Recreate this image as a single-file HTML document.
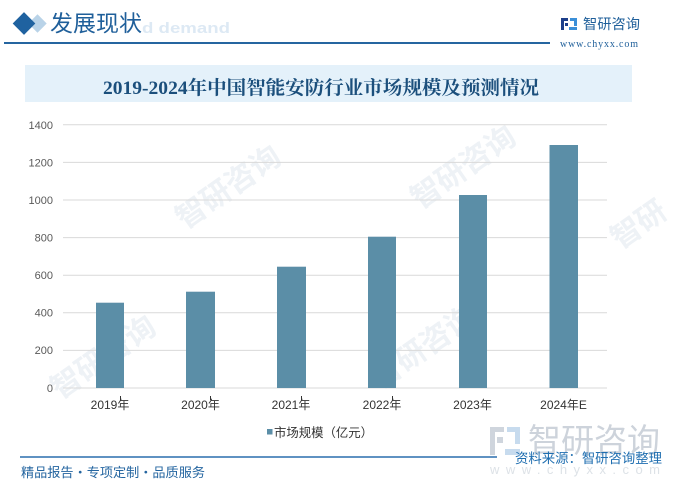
<!DOCTYPE html>
<html>
<head>
<meta charset="utf-8">
<style>
  html,body{margin:0;padding:0;background:#fff;}
  body{width:680px;height:492px;overflow:hidden;position:relative;}
  svg{display:block;}
  .cjk{font-family:"Liberation Sans","Noto Sans CJK SC",sans-serif;}
  .serif{font-family:"Liberation Serif","Noto Serif CJK SC",serif;}
</style>
</head>
<body>
<svg width="680" height="492" viewBox="0 0 680 492" xmlns="http://www.w3.org/2000/svg">
  <!-- faint watermarks -->
  <g class="cjk" fill="#eef2f6" font-size="30" font-weight="bold">
    <text x="0" y="0" transform="translate(185,230) rotate(-35)">智研咨询</text>
    <text x="0" y="0" transform="translate(380,390) rotate(-35)">智研咨询</text>
    <text x="0" y="0" transform="translate(420,210) rotate(-35)">智研咨询</text>
    <text x="0" y="0" transform="translate(60,400) rotate(-35)">智研咨询</text>
    <text x="0" y="0" transform="translate(620,250) rotate(-35)">智研</text>
  </g>

  <!-- header -->
  <rect x="31" y="17" width="13" height="13" fill="#b9d3e8" transform="rotate(45 37.5 23.5)"/>
  <rect x="16" y="15.5" width="16" height="16" fill="#1f62a0" transform="rotate(45 24 23.5)"/>
  <text x="142" y="33" font-family="Liberation Sans, sans-serif" font-weight="bold" font-size="14.5" fill="#dde9f4" textLength="88" lengthAdjust="spacingAndGlyphs">d demand</text>
  <text class="cjk" x="50" y="31.5" font-size="22.5" fill="#1f5f9a" textLength="92" lengthAdjust="spacingAndGlyphs">发展现状</text>
  <line x1="4" y1="43" x2="550" y2="43" stroke="#2565a0" stroke-width="2"/>

  <!-- logo -->
  <rect x="561" y="18" width="7" height="3" fill="#1d3f8a"/>
  <rect x="561" y="18" width="3" height="12" fill="#1d3f8a"/>
  <rect x="565" y="23" width="3" height="3" fill="#1d3f8a"/>
  <rect x="570" y="18" width="7" height="3" fill="#3b8fd8"/>
  <rect x="574" y="18" width="3" height="8" fill="#3b8fd8"/>
  <rect x="569" y="27" width="8" height="3" fill="#3b8fd8"/>
  <text class="cjk" x="583" y="29" font-size="14" fill="#1f5f9a" textLength="57" lengthAdjust="spacingAndGlyphs">智研咨询</text>
  <text class="serif" x="560" y="47" font-size="10" fill="#1f5f9a" textLength="78" lengthAdjust="spacing">www.chyxx.com</text>

  <!-- title box -->
  <rect x="25" y="65" width="607" height="37" fill="#e4f1fa"/>
  <text class="serif" x="103" y="94" font-size="19" font-weight="bold" fill="#1b4f7c" textLength="436" lengthAdjust="spacingAndGlyphs">2019-2024年中国智能安防行业市场规模及预测情况</text>

  <!-- gridlines -->
  <g stroke="#d9d9d9" stroke-width="1">
    <line x1="63" y1="124.8" x2="607" y2="124.8"/>
    <line x1="63" y1="162.4" x2="607" y2="162.4"/>
    <line x1="63" y1="200" x2="607" y2="200"/>
    <line x1="63" y1="237.6" x2="607" y2="237.6"/>
    <line x1="63" y1="275.2" x2="607" y2="275.2"/>
    <line x1="63" y1="312.8" x2="607" y2="312.8"/>
    <line x1="63" y1="350.4" x2="607" y2="350.4"/>
    <line x1="63" y1="388" x2="607" y2="388"/>
  </g>

  <!-- y labels -->
  <g font-family="Liberation Sans, sans-serif" font-size="11" fill="#595959" text-anchor="end">
    <text x="53" y="129">1400</text>
    <text x="53" y="166.5">1200</text>
    <text x="53" y="204">1000</text>
    <text x="53" y="241.5">800</text>
    <text x="53" y="279">600</text>
    <text x="53" y="316.5">400</text>
    <text x="53" y="354">200</text>
    <text x="53" y="392">0</text>
  </g>

  <!-- bars -->
  <g fill="#5b8ea7">
    <rect x="96" y="302.7" width="28" height="85.3"/>
    <rect x="186" y="291.7" width="29" height="96.3"/>
    <rect x="277" y="266.7" width="29" height="121.3"/>
    <rect x="368" y="236.7" width="28" height="151.3"/>
    <rect x="459" y="195" width="28" height="193"/>
    <rect x="549.5" y="145" width="28.5" height="243"/>
  </g>

  <!-- tick marks -->
  <g stroke="#333" stroke-width="1">
    <line x1="120.5" y1="396" x2="120.5" y2="400"/>
    <line x1="210.5" y1="396" x2="210.5" y2="400"/>
    <line x1="301.5" y1="396" x2="301.5" y2="400"/>
    <line x1="392.5" y1="396" x2="392.5" y2="400"/>
  </g>

  <!-- x labels -->
  <g class="cjk" font-size="12" fill="#333" text-anchor="middle">
    <text x="110" y="409">2019年</text>
    <text x="200.5" y="409">2020年</text>
    <text x="291" y="409">2021年</text>
    <text x="382" y="409">2022年</text>
    <text x="472.5" y="409">2023年</text>
    <text x="563.5" y="409">2024年E</text>
  </g>

  <!-- legend -->
  <rect x="267" y="429" width="5.5" height="5.5" fill="#5b8ea7"/>
  <text class="cjk" x="274" y="437" font-size="12.4" fill="#333" textLength="99" lengthAdjust="spacingAndGlyphs">市场规模（亿元）</text>

  <!-- bottom-right watermark logo -->
  <g fill="#cfd5dd">
    <rect x="490" y="427" width="14" height="5"/>
    <rect x="490" y="427" width="5" height="28"/>
    <rect x="497" y="437" width="6" height="6"/>
  </g>
  <g fill="#c7dbee">
    <rect x="507" y="427" width="13" height="5"/>
    <rect x="515" y="427" width="5" height="17"/>
    <rect x="505" y="449" width="15" height="6"/>
  </g>
  <text class="cjk" x="528" y="452" font-size="33" fill="#cdd3db" textLength="132" lengthAdjust="spacingAndGlyphs">智研咨询</text>
  <text font-family="Liberation Sans, sans-serif" x="490" y="474" font-size="13" fill="#dde2e7" textLength="170" lengthAdjust="spacing">www.chyxx.com</text>

  <!-- footer -->
  <line x1="20" y1="457" x2="497" y2="457" stroke="#2a6fad" stroke-width="1.5"/>
  <text class="cjk" x="515" y="463" font-size="13.4" fill="#1f6eb0" textLength="147" lengthAdjust="spacingAndGlyphs">资料来源：智研咨询整理</text>
  <text class="cjk" x="21" y="477" font-size="13" fill="#2465a0" textLength="184" lengthAdjust="spacingAndGlyphs">精品报告・专项定制・品质服务</text>
</svg>
</body>
</html>
